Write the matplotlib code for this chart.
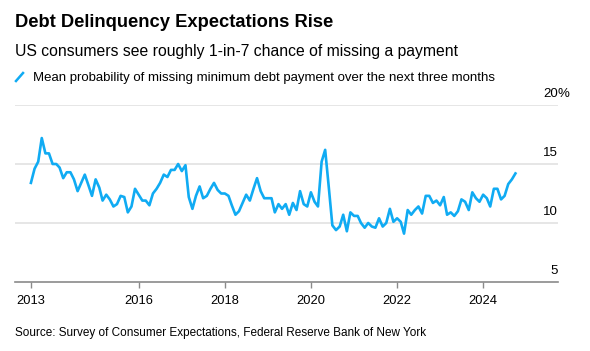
import matplotlib.pyplot as plt
from matplotlib.lines import Line2D
import pandas as pd

plt.rcParams['font.family'] = ['Liberation Sans', 'DejaVu Sans']

# monthly survey values, June 2013 .. Sept 2024 (percent)
start_date = '2013-06-30'
values = [
    13.4, 14.6, 15.2, 17.2, 15.9, 15.9, 15.0, 15.0, 14.7, 13.8,
    14.3, 14.3, 13.7, 12.7, 13.4, 14.1, 13.2, 12.3, 13.7, 13.0,
    11.9, 12.4, 12.0, 11.4, 11.6, 12.3, 12.2, 10.9, 11.4, 12.9,
    12.4, 11.9, 11.9, 11.5, 12.5, 12.9, 13.4, 14.1, 13.9, 14.5,
    14.5, 15.0, 14.4, 14.9, 12.2, 11.2, 12.3, 13.1, 12.1, 12.3,
    12.9, 13.4, 12.8, 12.5, 12.5, 12.3, 11.5, 10.7, 11.0, 11.7,
    12.4, 11.9, 12.9, 13.8, 12.7, 12.1, 12.1, 12.1, 10.9, 11.6,
    11.2, 11.6, 10.7, 11.7, 11.1, 12.7, 11.6, 11.4, 12.6, 11.8,
    11.4, 15.2, 16.2, 13.0, 9.8, 9.4, 9.7, 10.7, 9.3, 10.9,
    10.6, 10.6, 10.0, 9.6, 10.0, 9.7, 9.6, 10.4, 9.7, 10.0,
    11.2, 10.1, 10.4, 10.1, 9.1, 11.1, 10.7, 11.1, 11.4, 10.8,
    12.3, 12.3, 11.7, 11.9, 11.5, 12.2, 10.7, 10.9, 10.6, 11.0,
    12.0, 11.8, 11.1, 12.6, 12.1, 11.8, 12.4, 12.1, 11.4, 12.9,
    12.9, 12.0, 12.3, 13.3, 13.7, 14.2,
]
dates = pd.date_range(start_date, periods=len(values), freq='ME')

x_tick_years = [2016, 2018, 2020, 2022, 2024]
y_ticks = [5, 10, 15, 20]

title = 'Debt Delinquency Expectations Rise'
subtitle = 'US consumers see roughly 1-in-7 chance of missing a payment'
legend_label = 'Mean probability of missing minimum debt payment over the next three months'
source = 'Source: Survey of Consumer Expectations, Federal Reserve Bank of New York'

BLUE = '#10abf3'
GRID = '#e4e4e4'
AXIS = '#8a8a8a'

W, H = 590, 351
fig = plt.figure(figsize=(W / 100, H / 100), dpi=100)
ax = fig.add_axes([15 / W, 69 / H, 543 / W, 177 / H])

for v in y_ticks[1:]:
    ax.axhline(v, color=GRID, lw=1.3, zorder=0)

ax.plot(dates, values, color=BLUE, lw=1.9, zorder=3)

ax.set_xlim(pd.Timestamp('2013-02-15'), pd.Timestamp('2025-09-26'))
ax.set_ylim(y_ticks[0], y_ticks[-1])

for side in ['top', 'left', 'right']:
    ax.spines[side].set_visible(False)
ax.spines['bottom'].set_color(AXIS)
ax.spines['bottom'].set_linewidth(1.2)

ticks = [dates[0]] + [pd.Timestamp(f'{y}-01-01') for y in x_tick_years]
ax.set_xticks(ticks)
ax.set_xticklabels([str(dates[0].year)] + [str(y) for y in x_tick_years])
ax.tick_params(axis='x', length=4, width=1, color=AXIS, pad=5, labelsize=9.3)
ax.set_yticks([])

# y labels sit above the gridlines at the right edge
for v in y_ticks:
    ax.annotate(str(v), xy=(1, v), xycoords=('axes fraction', 'data'),
                xytext=(0, 6), textcoords='offset points',
                ha='right', va='baseline', fontsize=9.5)
ax.annotate('%', xy=(1, y_ticks[-1]), xycoords=('axes fraction', 'data'),
            xytext=(0, 6), textcoords='offset points',
            ha='left', va='baseline', fontsize=9.5)

fig.text(15 / W, 1 - 27 / H, title, fontsize=13.2, fontweight='bold', va='baseline')
fig.text(15 / W, 1 - 56 / H, subtitle, fontsize=11.3, va='baseline')
fig.add_artist(Line2D([16 / W, 23 / W], [1 - 81 / H, 1 - 73 / H], color=BLUE, lw=1.8))
fig.text(33 / W, 1 - 81 / H, legend_label, fontsize=9.5, va='baseline')
fig.text(15 / W, 1 - 336 / H, source, fontsize=8.5, va='baseline')

fig.savefig('out.png', dpi=100)
